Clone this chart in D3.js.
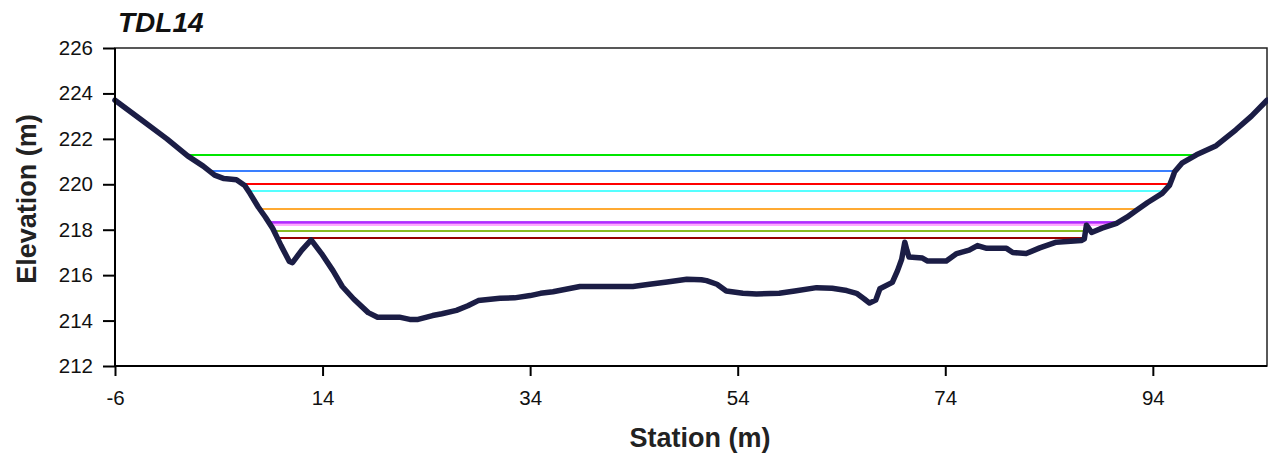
<!DOCTYPE html>
<html>
<head>
<meta charset="utf-8">
<script src="https://cdn.jsdelivr.net/npm/d3@7"></script>
<style>
  body { margin: 0; background: #fff; }
  svg { display: block; font-family: "Liberation Sans", Arial, sans-serif; }
</style>
</head>
<body>
<svg id="chart"></svg>
<script>
// cross-section profile (station m, elevation m)
const station = [-6, -3.5, -1, 1, 2.5, 3.6, 4.5, 5.7, 6.5, 7.0, 7.8, 8.5, 9.2, 10.0, 10.8, 11.1,
  12.0, 12.9, 13.9, 15.0, 15.9, 17.0, 18.4, 19.3, 21.4, 22.4, 23.2, 24.6, 25.5, 26.9, 28.0, 29.0,
  31.1, 32.5, 34.0, 35.0, 36.2, 38.8, 43.9, 45.5, 47.2, 49.1, 50.5, 51.0, 52.0, 52.9, 54.5, 55.8,
  58.0, 59.5, 61.6, 63.1, 64.5, 65.45, 66.2, 66.7, 67.3, 67.7, 68.9, 69.4, 69.8, 70.1, 70.3, 70.5,
  71.8, 72.3, 74.1, 75.1, 76.3, 77.1, 78.0, 79.9, 80.5, 81.8, 83.1, 84.7, 87.1, 87.4, 87.6, 88.1,
  89.1, 90.5, 91.5, 92.4, 93.5, 94.9, 95.6, 95.9, 96.1, 96.8, 98.2, 100.1, 102.0, 103.5, 105.0];
const elevation = [223.7, 222.85, 222.0, 221.25, 220.8, 220.4, 220.25, 220.2, 219.95, 219.6, 219.0, 218.55, 218.05, 217.3, 216.6, 216.55,
  217.1, 217.55, 216.95, 216.2, 215.5, 214.95, 214.35, 214.15, 214.15, 214.05, 214.05, 214.22, 214.3, 214.45, 214.65, 214.88,
  214.98, 215.0, 215.1, 215.2, 215.27, 215.5, 215.5, 215.6, 215.7, 215.82, 215.8, 215.76, 215.6, 215.3, 215.2, 215.17,
  215.2, 215.3, 215.45, 215.42, 215.32, 215.2, 214.95, 214.77, 214.9, 215.4, 215.68, 216.2, 216.7, 217.45, 217.1, 216.8,
  216.75, 216.62, 216.62, 216.95, 217.1, 217.3, 217.18, 217.18, 217.0, 216.95, 217.2, 217.45, 217.52, 217.6, 218.2, 217.88,
  218.07, 218.28, 218.55, 218.85, 219.2, 219.6, 219.95, 220.3, 220.55, 220.93, 221.3, 221.7, 222.4, 223.0, 223.7];

// water surface elevations (m)
const waterLevels = [221.29, 220.58, 220.01, 219.70, 218.91, 218.33, 218.27, 218.21, 217.94, 217.64];
const waterColors = ["#00e600", "#3a7fff", "#ff0000", "#55ffff", "#ffaa33", "#9900ff", "#cc55ff", "#ffaaff", "#88bb22", "#990000"];

const xTicks = [-6, 14, 34, 54, 74, 94];
const yTicks = [212, 214, 216, 218, 220, 222, 224, 226];

const width = 1268, height = 454;
const margin = {top: 48, right: 1, bottom: 88, left: 115};

const svg = d3.select("#chart").attr("width", width).attr("height", height);

const x = d3.scaleLinear().domain([-6, 105]).range([margin.left, width - margin.right]);
const y = d3.scaleLinear().domain([212, 226]).range([height - margin.bottom, margin.top]);

const profile = station.map((s, i) => ({s: s, e: elevation[i]}));

// where a water level meets the banks
function bankCrossings(w) {
  let left = null, right = null;
  for (let i = 0; i < profile.length - 1; i++) {
    const a = profile[i], b = profile[i + 1];
    if (a.e >= w && b.e < w) { left = a.s + (a.e - w) / (a.e - b.e) * (b.s - a.s); break; }
  }
  for (let i = profile.length - 1; i > 0; i--) {
    const a = profile[i], b = profile[i - 1];
    if (a.e >= w && b.e < w) { right = a.s - (a.e - w) / (a.e - b.e) * (a.s - b.s); break; }
  }
  return [left, right];
}

// plot frame
svg.append("rect")
  .attr("x", margin.left).attr("y", margin.top)
  .attr("width", width - margin.right - margin.left)
  .attr("height", height - margin.bottom - margin.top)
  .attr("fill", "none").attr("stroke", "#222").attr("stroke-width", 1.5);

// water surfaces
svg.append("g").selectAll("line")
  .data(waterLevels)
  .join("line")
    .attr("x1", d => x(bankCrossings(d)[0]))
    .attr("x2", d => x(bankCrossings(d)[1]))
    .attr("y1", d => y(d))
    .attr("y2", d => y(d))
    .attr("stroke", (d, i) => waterColors[i])
    .attr("stroke-width", 2);

// ground profile
const line = d3.line().x(d => x(d.s)).y(d => y(d.e));
svg.append("path")
  .datum(profile)
  .attr("d", line)
  .attr("fill", "none")
  .attr("stroke", "#1b1d45")
  .attr("stroke-width", 5.5)
  .attr("stroke-linejoin", "round")
  .attr("stroke-linecap", "round");

// axes
const yAxis = svg.append("g")
  .attr("transform", `translate(${margin.left},0)`)
  .call(d3.axisLeft(y).tickValues(yTicks).tickSize(12).tickPadding(10).tickFormat(d => String(d)));
const xAxis = svg.append("g")
  .attr("transform", `translate(0,${height - margin.bottom})`)
  .call(d3.axisBottom(x).tickValues(xTicks).tickSize(10).tickPadding(14).tickFormat(d => String(d)));

[yAxis, xAxis].forEach(g => {
  g.select(".domain").attr("stroke", "#000").attr("stroke-width", 2);
  g.selectAll(".tick line").attr("stroke", "#000").attr("stroke-width", 2);
  g.selectAll(".tick text").attr("fill", "#111").style("font-size", "20.5px");
});
yAxis.select(".domain").attr("d", `M0,${margin.top}V${height - margin.bottom}`);
xAxis.select(".domain").attr("d", `M${margin.left},0H${width - margin.right}`);

// titles
svg.append("text")
  .attr("x", 118).attr("y", 32)
  .style("font-size", "28px").style("font-weight", "bold").style("font-style", "italic")
  .attr("fill", "#111")
  .text("TDL14");

svg.append("text")
  .attr("x", 700).attr("y", 447)
  .attr("text-anchor", "middle")
  .style("font-size", "27px").style("font-weight", "bold")
  .attr("fill", "#222")
  .text("Station (m)");

svg.append("text")
  .attr("transform", `translate(36,${(margin.top + height - margin.bottom) / 2 - 8}) rotate(-90)`)
  .attr("text-anchor", "middle")
  .style("font-size", "27px").style("font-weight", "bold")
  .attr("fill", "#222")
  .text("Elevation (m)");
</script>
</body>
</html>
